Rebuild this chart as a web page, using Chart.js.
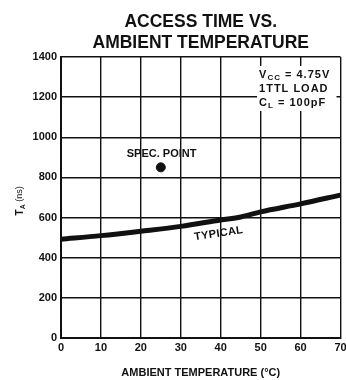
<!DOCTYPE html>
<html>
<head>
<meta charset="utf-8">
<script src="https://cdn.jsdelivr.net/npm/chart.js@4"></script>
<style>
  html, body { margin: 0; padding: 0; background: #fff; }
</style>
</head>
<body>
<canvas id="chart" width="346" height="380"></canvas>
<script>
// datos
const temps = [0, 10, 20, 30, 40, 45, 50, 60, 70];
const accessTime = [492, 510, 532, 556, 588, 603, 628, 668, 712];
const specTemp = [25];
const specTime = [850];
const xTicks = [0, 10, 20, 30, 40, 50, 60, 70];
const yTicks = [0, 200, 400, 600, 800, 1000, 1200, 1400];
const titleLines = ['ACCESS TIME VS.', 'AMBIENT TEMPERATURE'];
const conditions = [['V', 'CC', ' = 4.75V'], ['1TTL LOAD', '', ''], ['C', 'L', ' = 100pF']];

const FONT = '"Liberation Sans", Arial, sans-serif';
const INK = '#111';

// textos sobre el grafico (etiquetas, recuadro de condiciones, titulo del eje Y)
const notes = {
    id: 'notes',
    afterDatasetsDraw(chart) {
        const { ctx, chartArea, scales: { x, y } } = chart;
        ctx.save();
        ctx.fillStyle = INK;

        // SPEC. POINT
        ctx.font = 'bold 11px ' + FONT;
        ctx.textAlign = 'center';
        ctx.textBaseline = 'middle';
        ctx.fillText('SPEC. POINT', x.getPixelForValue(25.2), y.getPixelForValue(917));

        // TYPICAL (girado)
        ctx.save();
        ctx.translate(x.getPixelForValue(39.5), y.getPixelForValue(520));
        ctx.rotate(-8.5 * Math.PI / 180);
        ctx.letterSpacing = '0.3px';
        ctx.fillText('TYPICAL', 0, 0);
        ctx.restore();

        // recuadro de condiciones
        const bx = x.getPixelForValue(49.1), by = y.getPixelForValue(1355);
        const bw = x.getPixelForValue(69) - bx, bh = y.getPixelForValue(1131) - by;
        ctx.fillStyle = '#fff';
        ctx.fillRect(bx, by, bw, bh);
        ctx.fillStyle = INK;
        ctx.textAlign = 'left';
        ctx.letterSpacing = '1px';
        conditions.forEach((parts, i) => {
            let px = bx + 2;
            const py = by + 9 + i * 14;
            ctx.font = 'bold 11px ' + FONT;
            ctx.fillText(parts[0], px, py);
            px += ctx.measureText(parts[0]).width;
            if (parts[1]) {
                ctx.font = 'bold 8px ' + FONT;
                ctx.fillText(parts[1], px, py + 3);
                px += ctx.measureText(parts[1]).width;
            }
            ctx.font = 'bold 11px ' + FONT;
            ctx.fillText(parts[2], px, py);
        });
        ctx.letterSpacing = '0px';

        // titulo eje Y: T_A (ns)
        ctx.save();
        ctx.translate(chartArea.left - 41, y.getPixelForValue(683));
        ctx.rotate(-Math.PI / 2);
        ctx.font = 'bold 10px ' + FONT;
        const wT = ctx.measureText('T').width;
        ctx.font = 'bold 7px ' + FONT;
        const wA = ctx.measureText('A').width;
        ctx.font = '9px ' + FONT;
        const wN = ctx.measureText(' (ns)').width;
        let tx = -(wT + wA + wN) / 2;
        ctx.font = 'bold 10px ' + FONT;
        ctx.fillText('T', tx, 0);
        tx += wT;
        ctx.font = 'bold 7px ' + FONT;
        ctx.fillText('A', tx, 3);
        tx += wA;
        ctx.font = '9px ' + FONT;
        ctx.fillText(' (ns)', tx, 0);
        ctx.restore();

        ctx.restore();
    }
};

new Chart(document.getElementById('chart'), {
    type: 'line',
    data: {
        datasets: [
            {
                label: 'Typical',
                data: temps.map((t, i) => ({ x: t, y: accessTime[i] })),
                borderColor: INK,
                borderWidth: 5,
                pointRadius: 0,
                cubicInterpolationMode: 'monotone',
                fill: false
            },
            {
                label: 'Spec. point',
                type: 'scatter',
                data: specTemp.map((t, i) => ({ x: t, y: specTime[i] })),
                backgroundColor: INK,
                borderColor: INK,
                pointRadius: 4.5
            }
        ]
    },
    options: {
        responsive: false,
        animation: false,
        devicePixelRatio: 1,
        layout: { padding: { left: 0, right: 4, top: 0, bottom: 0 } },
        plugins: {
            legend: { display: false },
            tooltip: { enabled: false },
            title: {
                display: true,
                fullSize: false,
                text: titleLines,
                color: INK,
                font: { family: FONT, size: 17.5, weight: 'bold', lineHeight: 1.17 },
                padding: { top: 12, bottom: 4 }
            }
        },
        scales: {
            x: {
                type: 'linear',
                min: 0,
                max: 70,
                afterBuildTicks: s => { s.ticks = xTicks.map(v => ({ value: v })); },
                afterFit: s => { s.height = 42; s.paddingLeft = 0; s.paddingRight = 0; },
                ticks: { color: INK, padding: 3, font: { family: FONT, size: 11, weight: 'bold' }, callback: v => String(v) },
                grid: { color: INK, lineWidth: 1.4, drawTicks: false },
                border: { color: INK, width: 2 },
                title: {
                    display: true,
                    text: 'AMBIENT TEMPERATURE (°C)',
                    color: INK,
                    font: { family: FONT, size: 11, weight: 'bold' },
                    padding: { top: 0, bottom: 0 }
                }
            },
            y: {
                min: 0,
                max: 1400,
                afterBuildTicks: s => { s.ticks = yTicks.map(v => ({ value: v })); },
                afterFit: s => { s.width = 61; },
                ticks: { color: INK, padding: 4, font: { family: FONT, size: 11, weight: 'bold' }, callback: v => String(v) },
                grid: { color: INK, lineWidth: 1.4, drawTicks: false },
                border: { color: INK, width: 2 }
            }
        }
    },
    plugins: [notes]
});
</script>
</body>
</html>
